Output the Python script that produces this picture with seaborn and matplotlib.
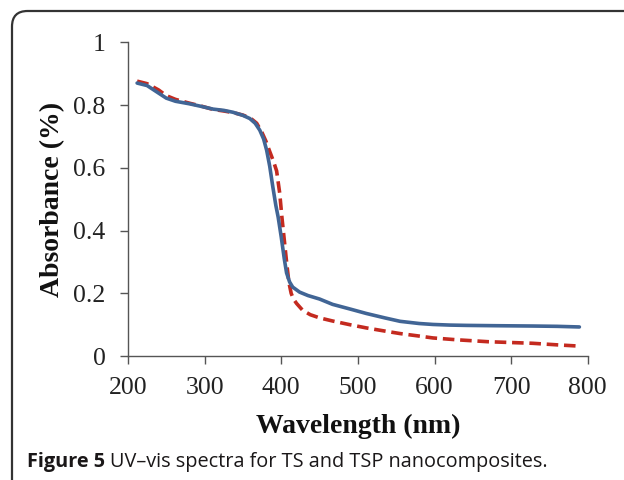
import numpy as np
import pandas as pd
import matplotlib
matplotlib.use("Agg")
import matplotlib.pyplot as plt
from matplotlib.patches import FancyBboxPatch
import seaborn as sns

# Spectra (wavelength in nm, absorbance)
ts_wavelength = [212, 225, 240, 250, 262, 280, 295, 311, 325, 337, 350, 359, 366, 372,
                 377, 381, 385, 389, 393, 396, 400, 404, 407, 411, 415, 424, 435, 450,
                 467, 490, 511, 535, 555, 580, 598, 620, 642, 680, 728, 760, 789]
ts_absorb = [0.870, 0.862, 0.838, 0.822, 0.812, 0.804, 0.796, 0.787, 0.783, 0.777, 0.767, 0.757,
             0.742, 0.720, 0.692, 0.656, 0.605, 0.540, 0.480, 0.443, 0.380, 0.310, 0.265, 0.236,
             0.220, 0.204, 0.193, 0.182, 0.165, 0.150, 0.136, 0.122, 0.111, 0.104, 0.101, 0.099,
             0.098, 0.097, 0.096, 0.095, 0.093]

tsp_wavelength = [212, 225, 240, 250, 262, 280, 295, 311, 325, 337, 350, 360, 368, 375,
                  380, 385, 390, 394, 398, 401, 404, 407, 410, 413, 416, 420, 428, 438,
                  450, 467, 490, 511, 535, 555, 580, 598, 630, 670, 728, 760, 789]
tsp_absorb = [0.876, 0.868, 0.848, 0.830, 0.818, 0.806, 0.797, 0.786, 0.781, 0.776, 0.768, 0.758,
              0.742, 0.712, 0.685, 0.652, 0.620, 0.590, 0.520, 0.440, 0.370, 0.300, 0.235, 0.200,
              0.182, 0.168, 0.146, 0.132, 0.122, 0.112, 0.100, 0.090, 0.080, 0.072, 0.064, 0.058,
              0.052, 0.046, 0.041, 0.036, 0.032]

ts = pd.DataFrame({"wl": ts_wavelength, "abs": ts_absorb})
tsp = pd.DataFrame({"wl": tsp_wavelength, "abs": tsp_absorb})

sns.set_style("ticks")
plt.rcParams["font.family"] = ["Liberation Serif", "DejaVu Serif"]

fig = plt.figure(figsize=(6.24, 4.8), dpi=100)
ax = fig.add_axes([0.205, 0.258, 0.737, 0.654])

sns.lineplot(data=tsp, x="wl", y="abs", ax=ax, color="#c42a1f", lw=2.6,
             linestyle=(0, (3.2, 1.6)), sort=False)
sns.lineplot(data=ts, x="wl", y="abs", ax=ax, color="#416595", lw=2.6, sort=False)

ax.set_xlim(200, 800)
ax.set_ylim(0, 1)
ax.set_xticks([200, 300, 400, 500, 600, 700, 800])
ax.set_yticks([0, 0.2, 0.4, 0.6, 0.8, 1])
ax.set_yticklabels(["0", "0.2", "0.4", "0.6", "0.8", "1"])
sns.despine(ax=ax)
for s in ["left", "bottom"]:
    ax.spines[s].set_color("#555555")
    ax.spines[s].set_linewidth(1.0)
ax.tick_params(axis="both", direction="out", length=6, width=1.0, color="#555555",
               labelsize=18.5, labelcolor="#222222")
ax.tick_params(axis="x", pad=9)
ax.tick_params(axis="y", pad=10)
ax.set_xlabel("Wavelength (nm)", fontsize=20, fontweight="bold", color="#111111", labelpad=11)
ax.set_ylabel("Absorbance (%)", fontsize=20, fontweight="bold", color="#111111", labelpad=6)

# rounded frame that runs off the right and bottom edges
frame = FancyBboxPatch((12 / 624, -0.1), 1.2, 1 - 11 / 480 + 0.1,
                       boxstyle="round,pad=0,rounding_size=0.025",
                       transform=fig.transFigure, fill=False, ec="#333333", lw=1.6,
                       mutation_aspect=624 / 480)
fig.patches.append(frame)

# caption
cap_font = ["Open Sans", "DejaVu Sans"]
t1 = fig.text(27 / 624, 1 - 462 / 480, "Figure 5", family=cap_font, fontweight="bold",
              fontsize=14.3, color="#1a1718", va="center")
fig.canvas.draw()
bb = t1.get_window_extent()
fig.text(bb.x1 / 624 + 0.008, 1 - 462 / 480, "UV\u2013vis spectra for TS and TSP nanocomposites.",
         family=cap_font, fontsize=14.3, color="#1a1718", va="center")

fig.savefig("out.png", dpi=100)
